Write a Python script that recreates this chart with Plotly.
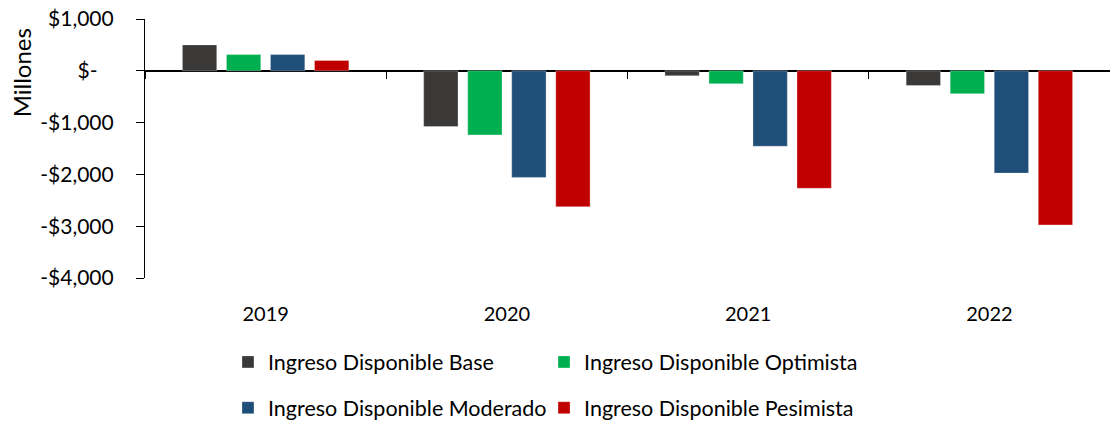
import plotly.graph_objects as go

years = ["2019", "2020", "2021", "2022"]
base = [500, -1077, -96, -283]
optimista = [313, -1238, -250, -442]
moderado = [313, -2058, -1456, -1975]
pesimista = [198, -2623, -2269, -2975]

series = [
    ("Ingreso Disponible Base", base, "#3B3838", "legend"),
    ("Ingreso Disponible Optimista", optimista, "#00B050", "legend2"),
    ("Ingreso Disponible Moderado", moderado, "#1F4E79", "legend3"),
    ("Ingreso Disponible Pesimista", pesimista, "#C00000", "legend4"),
]

tick_vals = [1000, 0, -1000, -2000, -3000, -4000]
tick_text = ["$1,000", "$-\u00a0\u00a0\u00a0", "-$1,000", "-$2,000", "-$3,000", "-$4,000"]

FONT = "Lato"

fig = go.Figure()
for name, vals, color, leg in series:
    fig.add_trace(go.Bar(
        x=years, y=vals, name=name, legend=leg,
        marker=dict(color=color, line=dict(color="rgba(255,255,255,0.6)", width=0.5)),
    ))

legend_common = dict(
    orientation="h", xanchor="left", yanchor="middle",
    font=dict(family=FONT, size=21.5, color="black"),
    itemwidth=30, bgcolor="rgba(0,0,0,0)",
)

fig.update_layout(
    width=1110, height=422,
    margin=dict(l=145, r=0, t=19, b=144, autoexpand=False),
    paper_bgcolor="white", plot_bgcolor="white",
    barmode="group", bargap=0.27, bargroupgap=0.22,
    font=dict(family=FONT, color="black"),
    legend=dict(x=0.086, y=-0.324, **legend_common),
    legend2=dict(x=0.4135, y=-0.324, **legend_common),
    legend3=dict(x=0.086, y=-0.501, **legend_common),
    legend4=dict(x=0.4135, y=-0.501, **legend_common),
    xaxis=dict(
        type="category", showline=False, showgrid=False, zeroline=False,
        ticks="", showticklabels=True, ticklabelstandoff=22, automargin=False,
        tickfont=dict(family=FONT, size=20, color="black"),
    ),
    xaxis2=dict(
        type="category", overlaying="x", matches="x", anchor="free", position=0.8,
        showline=False, showgrid=False, zeroline=False, showticklabels=False,
        ticks="outside", tickson="boundaries", ticklen=7, tickcolor="black", tickwidth=1.2,
    ),
    yaxis=dict(
        range=[-4000, 1000], tickvals=tick_vals, ticktext=tick_text,
        showgrid=False, showline=True, linecolor="black", linewidth=1.2,
        ticks="outside", ticklen=8, tickcolor="black", tickwidth=1.2,
        zeroline=True, zerolinecolor="black", zerolinewidth=1.5,
        ticklabelstandoff=18, automargin=False, ticklabeloverflow="allow",
        tickfont=dict(family=FONT, size=21, color="black"),
    ),
    annotations=[dict(
        text="Millones", textangle=-90, xref="paper", yref="paper",
        x=-0.1285, y=0.794, xanchor="center", yanchor="middle", showarrow=False,
        font=dict(family=FONT, size=24, color="black"),
    )],
)

# dummy invisible trace so xaxis2 draws its ticks
fig.add_trace(go.Bar(x=years, y=[None] * 4, xaxis="x2", showlegend=False, hoverinfo="skip"))

# drop the default body margin so the figure fills the window exactly
fig.write_html("out.html", config={"displayModeBar": False},
               post_script="document.body.style.margin='0';")
